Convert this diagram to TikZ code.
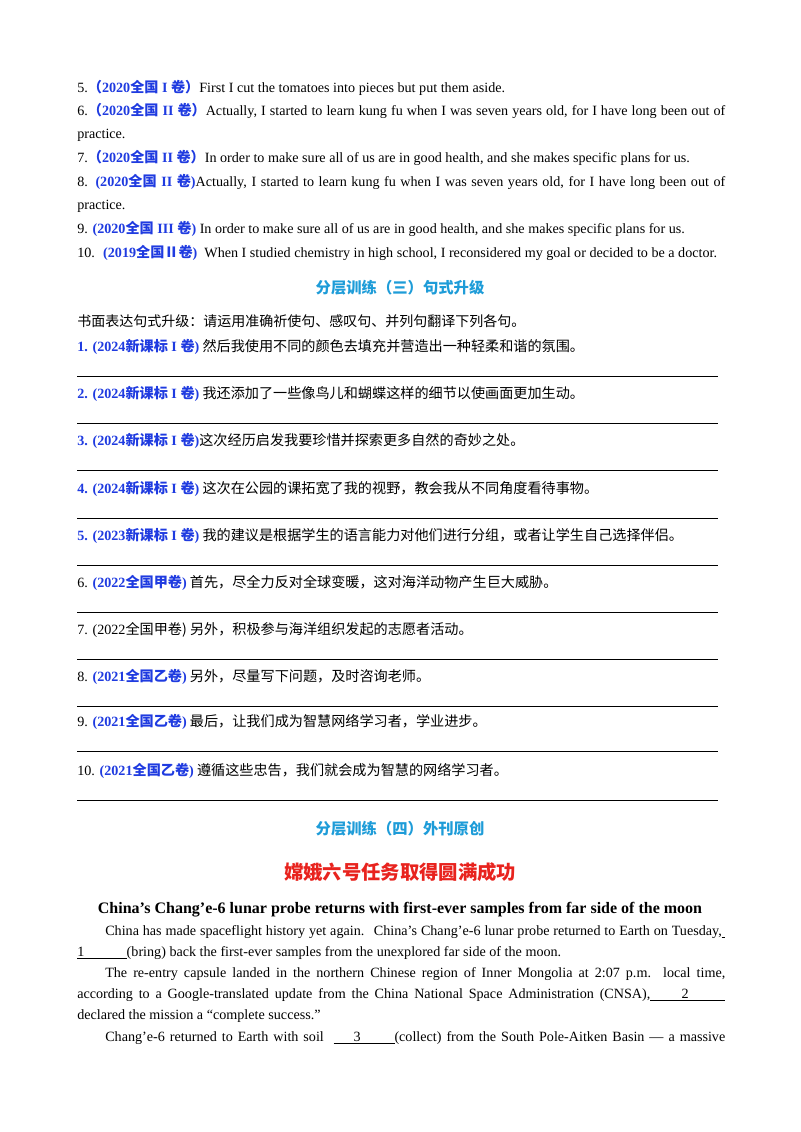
\documentclass[tikz,border=0pt]{standalone}
\usepackage{fontspec}
\setmainfont{Liberation Serif}
\newfontfamily\cjk{Noto Sans CJK SC}
\definecolor{lblue}{HTML}{1F3BE0}
\definecolor{hcyan}{HTML}{1E9CD8}
\definecolor{tred}{HTML}{E8231E}
\newcommand{\lb}[1]{\textcolor{lblue}{\bfseries #1}}
\newcommand{\jl}[1]{\makebox[486pt][s]{#1}}
\tikzset{ln/.style={anchor=base west,inner sep=0pt,font=\fontsize{10.6}{12}\selectfont},
 rule/.style={line width=0.5pt},
 hd/.style={anchor=base,inner sep=0pt,font=\cjk\bfseries\fontsize{11.5}{13}\selectfont,text=hcyan}}
\begin{document}
\begin{tikzpicture}[x=0.75pt,y=-0.75pt]
\useasboundingbox (0,0) rectangle (800,1132);
\node[ln] (a5) at (77,92) {5.\lb{\cjk（}\lb{2020\cjk 全国}\lb{ I }\lb{\cjk 卷）}First I cut the tomatoes into pieces but put them aside.};
\node[ln] (a6) at (77,115) {\jl{6.\lb{\cjk（}\lb{2020\cjk 全国}\lb{ II }\lb{\cjk 卷）}Actually, I started to learn kung fu when I was seven years old, for I have long been out of}};
\node[ln] (a6b) at (77,138) {practice.};
\node[ln] (a7) at (77,162) {7.\lb{\cjk（}\lb{2020\cjk 全国}\lb{ II }\lb{\cjk 卷）}In order to make sure all of us are in good health, and she makes specific plans for us.};
\node[ln] (a8) at (77,186) {\jl{8. \lb{(2020\cjk 全国}\lb{ II }\lb{\cjk 卷}\lb{)}Actually, I started to learn kung fu when I was seven years old, for I have long been out of}};
\node[ln] (a8b) at (77,209) {practice.};
\node[ln] (a9) at (77,233) {9. \lb{(2020\cjk 全国}\lb{ III }\lb{\cjk 卷}\lb{)} In order to make sure all of us are in good health, and she makes specific plans for us.};
\node[ln] (a10) at (77,257) {10. \ \lb{(2019\cjk 全国Ⅱ卷}\lb{)} \ When I studied chemistry in high school, I reconsidered my goal or decided to be a doctor.};
\node[hd] (h3) at (400,293) {分层训练（三）句式升级};
\node[ln,font=\cjk\fontsize{10.5}{12}\selectfont] (ins) at (77,326) {书面表达句式升级：请运用准确祈使句、感叹句、并列句翻译下列各句。};
\foreach \y/\lab/\txt [count=\i] in {
 351/{\lb{1. (2024\cjk 新课标}\lb{ I }\lb{\cjk 卷}\lb{)}}/{ 然后我使用不同的颜色去填充并营造出一种轻柔和谐的氛围。},
 398/{\lb{2. (2024\cjk 新课标}\lb{ I }\lb{\cjk 卷}\lb{)}}/{ 我还添加了一些像鸟儿和蝴蝶这样的细节以使画面更加生动。},
 445/{\lb{3. (2024\cjk 新课标}\lb{ I }\lb{\cjk 卷}\lb{)}}/{这次经历启发我要珍惜并探索更多自然的奇妙之处。},
 493/{\lb{4. (2024\cjk 新课标}\lb{ I }\lb{\cjk 卷}\lb{)}}/{ 这次在公园的课拓宽了我的视野，教会我从不同角度看待事物。},
 540/{\lb{5. (2023\cjk 新课标}\lb{ I }\lb{\cjk 卷}\lb{)}}/{ 我的建议是根据学生的语言能力对他们进行分组，或者让学生自己选择伴侣。},
 587/{6. \lb{(2022\cjk 全国甲卷}\lb{)}}/{ 首先，尽全力反对全球变暖，这对海洋动物产生巨大威胁。},
 634/{7. (2022\cjk 全国甲卷)}/{ 另外，积极参与海洋组织发起的志愿者活动。},
 681/{8. \lb{(2021\cjk 全国乙卷}\lb{)}}/{ 另外，尽量写下问题，及时咨询老师。},
 726/{9. \lb{(2021\cjk 全国乙卷}\lb{)}}/{ 最后，让我们成为智慧网络学习者，学业进步。},
 775/{10. \lb{(2021\cjk 全国乙卷}\lb{)}}/{ 遵循这些忠告，我们就会成为智慧的网络学习者。}}
{
 \node[ln] (q\i) at (77,\y) {\lab{\cjk\txt}};
 \coordinate (l\i) at (77,\y+25.5);
 \coordinate (r\i) at (718,\y+25.5);
 \draw[rule] (l\i) -- (r\i);
}
\node[hd] (h4) at (400,834) {分层训练（四）外刊原创};
\node[anchor=base,inner sep=0pt,font=\cjk\bfseries\fontsize{14.5}{16}\selectfont,text=tred] (tt) at (400,879) {嫦娥六号任务取得圆满成功};
\node[anchor=base,inner sep=0pt,font=\bfseries\fontsize{12}{14}\selectfont] (et) at (400,913) {China’s Chang’e-6 lunar probe returns with first-ever samples from far side of the moon};
\node[ln] (p1) at (77,935) {\makebox[486pt][s]{\hspace*{21pt}China has made spaceflight history yet again. \ China’s Chang’e-6 lunar probe returned to Earth on Tuesday,\underline{\ }}};
\node[ln] (p2) at (77,956) {\underline{1\hspace*{3em}}(bring) back the first-ever samples from the unexplored far side of the moon.};
\node[ln] (p3) at (77,977) {\makebox[486pt][s]{\hspace*{21pt}The re-entry capsule landed in the northern Chinese region of Inner Mongolia at 2:07 p.m. local time,}};
\node[ln] (p4) at (77,998) {\makebox[486pt][s]{according to a Google-translated update from the China National Space Administration (CNSA),\underline{\hspace*{2.2em}2\hspace*{2.6em}}}};
\node[ln] (p5) at (77,1019) {declared the mission a “complete success.”};
\node[ln] (p6) at (77,1041) {\makebox[486pt][s]{\hspace*{21pt}Chang’e-6 returned to Earth with soil \ \underline{\hspace*{1.4em}3\hspace*{2.4em}}(collect) from the South Pole-Aitken Basin — a massive}};
\end{tikzpicture}
\end{document}
